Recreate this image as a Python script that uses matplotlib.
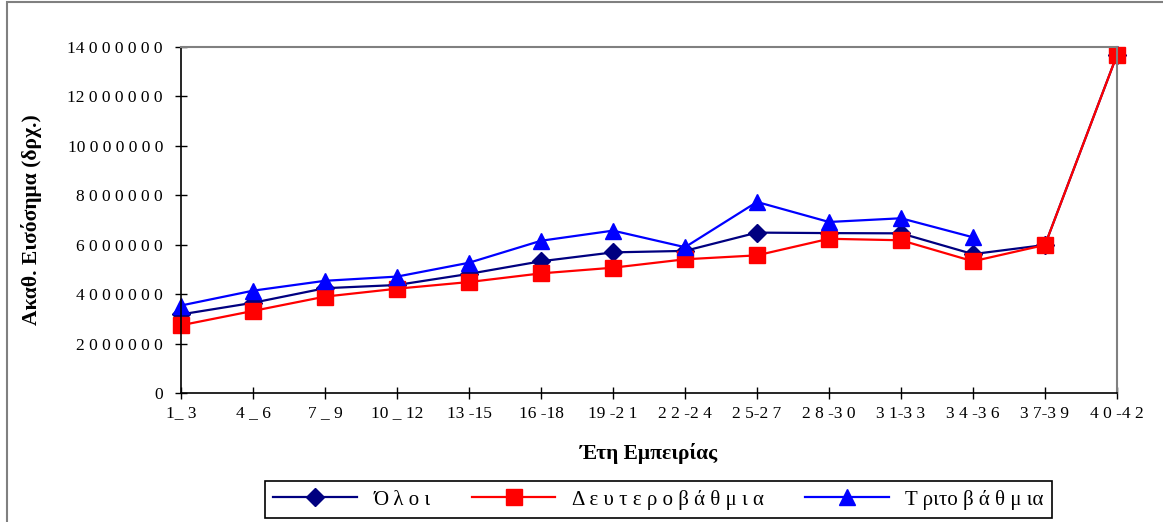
import numpy as np
import matplotlib
matplotlib.use("Agg")
import matplotlib.pyplot as plt
from matplotlib.patches import Rectangle

plt.rcParams['font.family'] = ['Liberation Serif', 'DejaVu Serif']

# categories (years of experience)
categories = ["1_ 3", "4 _ 6", "7 _ 9", "10 _ 12", "13 -15", "16 -18", "19 -2 1",
              "2 2 -2 4", "2 5-2 7", "2 8 -3 0", "3 1-3 3", "3 4 -3 6", "3 7-3 9", "4 0 -4 2"]

# mean income (drachmas)
oloi = [3180000, 3650000, 4240000, 4370000, 4820000, 5330000, 5690000,
        5750000, 6490000, 6470000, 6460000, 5620000, 5990000, 13680000]
deyt = [2740000, 3320000, 3900000, 4220000, 4490000, 4840000, 5070000,
        5410000, 5570000, 6240000, 6180000, 5330000, 5990000, 13680000]
trit = [3540000, 4140000, 4540000, 4710000, 5270000, 6160000, 6570000,
        5900000, 7730000, 6920000, 7070000, 6300000, np.nan, np.nan]

yticks = [0, 2000000, 4000000, 6000000, 8000000, 10000000, 12000000, 14000000]
ytick_labels = ["0", "2 0 0 0 0 0 0", "4 0 0 0 0 0 0", "6 0 0 0 0 0 0", "8 0 0 0 0 0 0",
                "10 0 0 0 0 0 0", "12 0 0 0 0 0 0", "14 0 0 0 0 0 0"]

fig = plt.figure(figsize=(11.63, 5.22), dpi=100)
W, H = 1163.0, 522.0

# outer chart frame
fig.patches.append(Rectangle((7 / W, -0.1), 1.2, (1 - 2 / H) + 0.1, transform=fig.transFigure,
                             fill=False, edgecolor="#808080", linewidth=1.5))

ax = fig.add_axes([181 / W, 1 - 393 / H, (1117 - 181) / W, (393 - 47) / H])
x = np.arange(len(categories))

ax.plot(x, oloi, color="#000080", marker="D", markersize=9.5, linewidth=1.6, label="Ό λ ο ι", clip_on=False)
ax.plot(x, deyt, color="#FF0000", marker="s", markersize=11, linewidth=1.6, label="Δ ε υ τ ε ρ ο β ά θ μ ι α", clip_on=False)
ax.plot(x, trit, color="#0000FF", marker="^", markersize=12, linewidth=1.6, label="Τ ριτο β ά θ μ ια", clip_on=False)

ax.set_xlim(0, len(categories) - 1)
ax.set_ylim(0, 14000000)
ax.set_xticks(x)
ax.set_xticklabels(categories, fontsize=12.5)
ax.set_yticks(yticks)
ax.set_yticklabels(ytick_labels, fontsize=12.5)
ax.tick_params(direction="inout", length=8, width=1)
ax.tick_params(axis="x", pad=5)
ax.tick_params(axis="y", pad=9)

for s in ["top", "right"]:
    ax.spines[s].set_color("#808080")
    ax.spines[s].set_linewidth(1.5)
for s in ["left", "bottom"]:
    ax.spines[s].set_color("black")
    ax.spines[s].set_linewidth(1.2)

ax.set_ylabel("Ακαθ. Εισόσημα (δρχ.)", fontsize=15.5, fontweight="bold")
ax.yaxis.set_label_coords(-0.148, 0.5)
ax.set_xlabel("Έτη Εμπειρίας", fontsize=15.5, fontweight="bold")
ax.xaxis.set_label_coords(0.5, -0.145)

leg = fig.legend(loc="lower left", bbox_to_anchor=(265 / W, 4 / H, (1052 - 265) / W, 33 / H),
                 mode="expand", ncol=3, fontsize=15, fancybox=False, frameon=True,
                 edgecolor="black", handlelength=4, borderaxespad=0, framealpha=1)
leg.get_frame().set_linewidth(1.2)

fig.savefig("out.png", dpi=100)
